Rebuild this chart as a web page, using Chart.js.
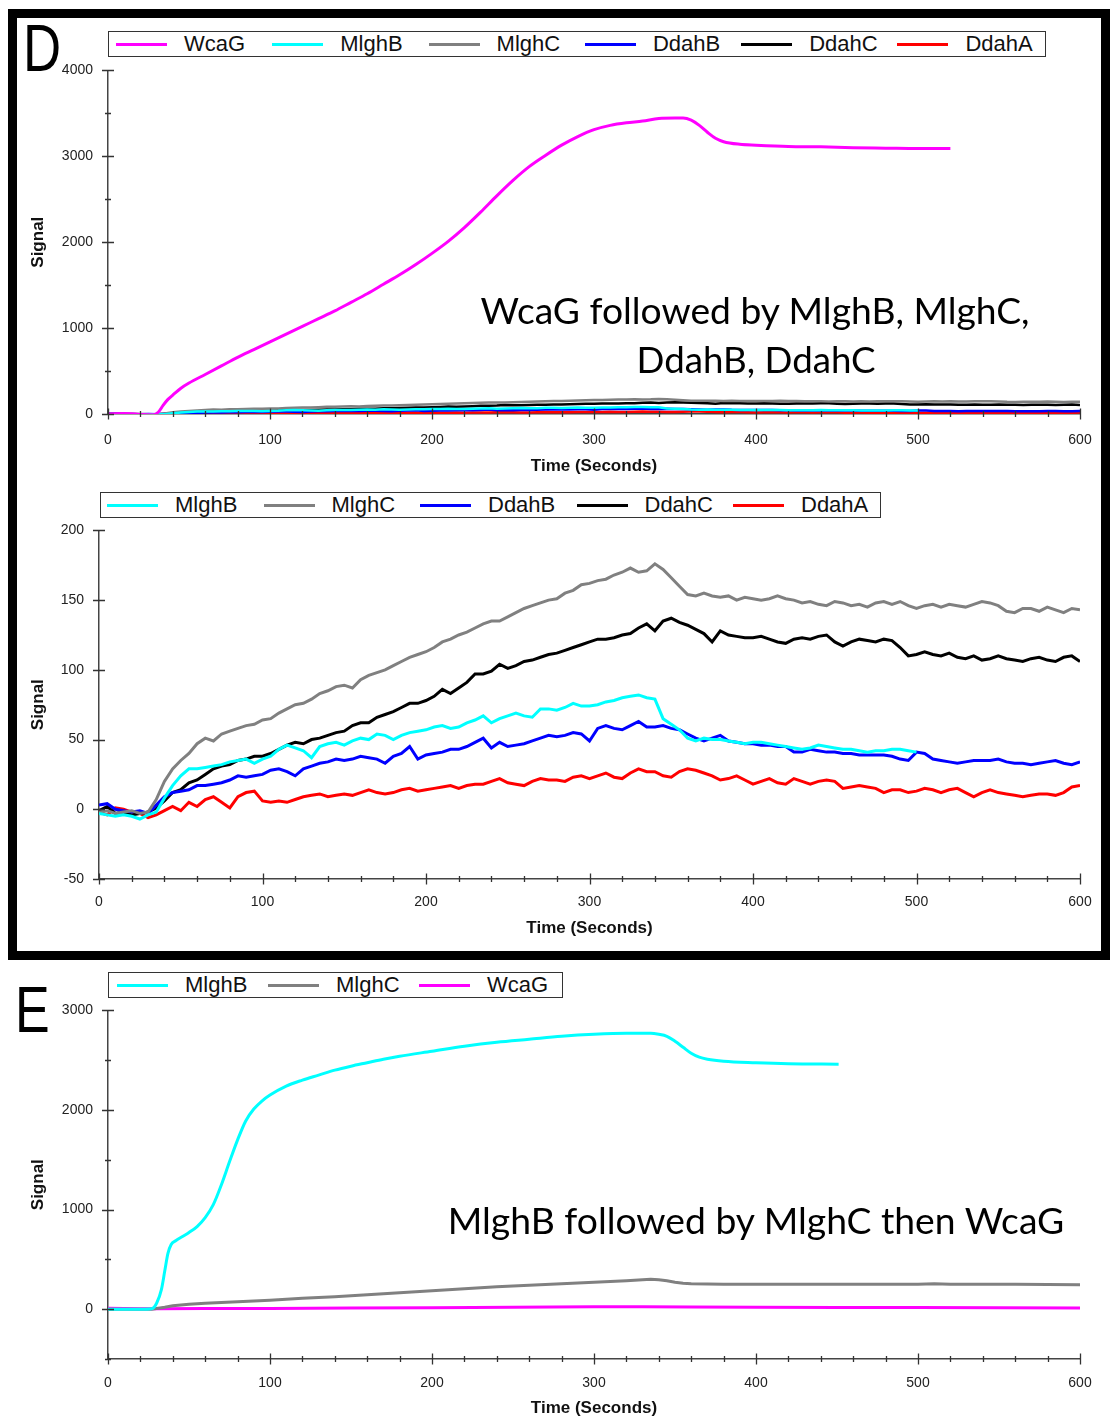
<!DOCTYPE html>
<html>
<head>
<meta charset="utf-8">
<title>Signal vs time</title>
<script src="https://cdn.jsdelivr.net/npm/chart.js@4.4.1/dist/chart.umd.min.js"></script>
<style>
  body { margin: 0; width: 1110px; height: 1416px; position: relative; overflow: hidden; background: #fff; font-family: "Liberation Sans", Arial, sans-serif; }
  .frame { position: absolute; left: 8px; top: 9px; width: 1102px; height: 951px; box-sizing: border-box; border: 9px solid #000; }
  canvas { position: absolute; left: 0; }
  .legend { position: absolute; box-sizing: border-box; height: 26px; border: 1.5px solid #333; background: #fff; display: flex; align-items: center; font-size: 22px; color: #111; white-space: nowrap; }
  .legend .item { flex: none; display: flex; align-items: center; }
  .legend .swatch { width: 51px; height: 3px; margin-right: 17px; }
  .letter { position: absolute; line-height: 1.117; transform: scaleX(0.8); transform-origin: 0 0; color: #000; }
  .note { position: absolute; font-family: Lato, "Open Sans", sans-serif; line-height: 1.2; text-align: center; white-space: nowrap; color: #000; }
</style>
</head>
<body>
<div class="frame"></div>
<div class="letter" style="left:23px; top:12px; font-size:66px;">D</div>
<div class="letter" style="left:15px; top:974px; font-size:65px;">E</div>

<canvas id="chartTop" width="1110" height="431" style="top:47px"></canvas>
<canvas id="chartMid" width="1110" height="432" style="top:507px"></canvas>
<canvas id="chartE" width="1110" height="432" style="top:987px"></canvas>

<div class="legend" id="legendTop" style="left:108px; top:31px; width:938px; padding-left:7px;"></div>
<div class="legend" id="legendMid" style="left:100px; top:492px; width:781px; padding-left:6px;"></div>
<div class="legend" id="legendE" style="left:108px; top:972px; width:455px; padding-left:8px;"></div>

<div class="note" data-cx="755" data-w="550" data-base="325">WcaG followed by MlghB, MlghC,</div>
<div class="note" data-cx="756" data-w="239" data-base="373">DdahB, DdahC</div>
<div class="note" data-cx="756" data-w="618" data-base="1235">MlghB followed by MlghC then WcaG</div>

<script>
// time base (seconds) for the noisy traces in panel D
const timeD = [
  0, 5, 10, 15, 20, 25, 30, 35, 40, 45, 50, 55, 60, 65, 70, 75, 80, 85, 90, 95,
  100, 105, 110, 115, 120, 125, 130, 135, 140, 145, 150, 155, 160, 165, 170, 175, 180, 185, 190, 195,
  200, 205, 210, 215, 220, 225, 230, 235, 240, 245, 250, 255, 260, 265, 270, 275, 280, 285, 290, 295,
  300, 305, 310, 315, 320, 325, 330, 335, 340, 345, 350, 355, 360, 365, 370, 375, 380, 385, 390, 395,
  400, 405, 410, 415, 420, 425, 430, 435, 440, 445, 450, 455, 460, 465, 470, 475, 480, 485, 490, 495,
  500, 505, 510, 515, 520, 525, 530, 535, 540, 545, 550, 555, 560, 565, 570, 575, 580, 585, 590, 595,
  600
];

const mlghB = [
  -3, -4, -5, -4, -5, -7, -4, -2, 8, 17, 24, 29, 29, 30, 31, 32, 34, 35, 36, 33,
  36, 38, 43, 46, 44, 42, 37, 45, 47, 48, 46, 49, 51, 50, 54, 53, 50, 53, 55, 56,
  57, 59, 60, 58, 59, 62, 64, 67, 62, 65, 67, 69, 67, 66, 72, 72, 71, 73, 76, 74,
  74, 75, 77, 78, 80, 81, 82, 80, 79, 65, 61, 57, 51, 49, 51, 50, 50, 49, 48, 47,
  48, 48, 47, 46, 45, 44, 43, 44, 46, 45, 44, 43, 43, 42, 41, 42, 42, 43, 43, 42,
  41
];

const mlghC = [
  -2, -1, -3, -2, -1, -3, -2, 7, 20, 29, 35, 40, 47, 51, 49, 54, 56, 58, 60, 61,
  64, 65, 69, 72, 75, 76, 79, 83, 85, 88, 89, 87, 93, 96, 98, 100, 103, 106, 109, 111,
  113, 116, 120, 122, 125, 127, 130, 133, 135, 135, 138, 141, 144, 146, 148, 150, 151, 155, 157, 161,
  162, 164, 165, 168, 170, 173, 170, 171, 176, 172, 166, 160, 154, 153, 155, 153, 152, 153, 150, 152,
  151, 150, 151, 153, 151, 150, 148, 149, 147, 146, 149, 148, 146, 147, 145, 148, 149, 147, 149, 146,
  144, 146, 147, 145, 147, 146, 145, 147, 149, 148, 146, 142, 141, 144, 144, 142, 145, 143, 141, 144,
  143
];

const ddahB = [
  3, 4, 0, -1, -2, -1, -3, 3, 9, 12, 13, 14, 17, 17, 18, 19, 21, 24, 23, 24,
  25, 28, 29, 27, 24, 29, 31, 33, 34, 36, 35, 36, 38, 37, 36, 33, 38, 40, 45, 36,
  39, 40, 41, 43, 43, 45, 48, 51, 44, 48, 45, 46, 47, 49, 51, 53, 52, 53, 55, 54,
  49, 58, 60, 58, 57, 60, 63, 59, 59, 60, 58, 57, 54, 51, 49, 51, 53, 49, 48, 47,
  47, 46, 46, 45, 45, 41, 41, 43, 42, 41, 41, 40, 40, 39, 39, 39, 39, 38, 36, 35,
  41, 40, 36, 35, 34, 33, 34, 35, 35, 35, 36, 34, 33, 33, 32, 33, 34, 35, 33, 32,
  34
];

const ddahC = [
  -1, 2, -3, -2, -4, -3, -2, 1, 6, 12, 14, 19, 21, 25, 29, 31, 32, 35, 36, 38,
  38, 40, 43, 46, 48, 47, 50, 51, 53, 55, 56, 60, 62, 62, 66, 68, 70, 73, 76, 76,
  78, 81, 86, 83, 87, 91, 97, 97, 99, 104, 101, 103, 106, 107, 109, 111, 112, 114, 116, 118,
  120, 122, 122, 123, 125, 126, 130, 133, 128, 135, 137, 134, 132, 129, 126, 120, 128, 125, 124, 123,
  123, 124, 122, 120, 119, 122, 123, 122, 124, 125, 120, 117, 120, 122, 121, 120, 122, 121, 116, 110,
  111, 113, 111, 110, 112, 109, 108, 110, 107, 108, 110, 108, 107, 106, 108, 109, 107, 106, 109, 110,
  106
];

const ddahA = [
  -2, -4, 1, 0, -2, -3, -6, -4, -1, 2, -1, 5, 2, 7, 9, 5, 1, 9, 12, 13,
  6, 5, 6, 5, 7, 9, 10, 11, 9, 10, 11, 10, 12, 14, 12, 11, 12, 14, 15, 13,
  14, 15, 16, 17, 15, 17, 18, 18, 20, 22, 19, 18, 17, 20, 22, 21, 21, 20, 23, 24,
  22, 24, 26, 23, 22, 26, 29, 27, 27, 24, 23, 27, 29, 28, 26, 24, 21, 22, 24, 21,
  18, 20, 22, 19, 18, 22, 20, 18, 20, 21, 20, 15, 16, 17, 16, 15, 12, 14, 14, 12,
  13, 15, 14, 12, 14, 15, 12, 9, 12, 14, 12, 11, 10, 9, 10, 11, 11, 10, 12, 16,
  17
];

// WcaG trace, top panel of D
const wcagTimeD = [0, 10, 20, 28, 31, 34, 37, 40, 45, 50, 60, 70, 80, 90, 100, 110, 120, 130, 140, 150,
  160, 170, 180, 190, 200, 210, 220, 230, 240, 250, 260, 270, 280, 290, 300, 310, 320, 330, 340, 350,
  355, 360, 365, 370, 375, 380, 390, 400, 420, 440, 460, 480, 500, 520];
const wcagD = [0, 5, -5, -10, 20, 100, 170, 220, 300, 360, 460, 560, 660, 750, 840, 930, 1020, 1110, 1200, 1300,
  1400, 1510, 1620, 1740, 1870, 2010, 2170, 2350, 2540, 2720, 2880, 3010, 3130, 3230, 3310, 3360, 3390, 3410, 3440, 3445,
  3445, 3420, 3360, 3280, 3210, 3170, 3140, 3130, 3115, 3110, 3100, 3095, 3090, 3090];

// panel E
const mlghBTimeE = [0, 10, 20, 27, 30, 33, 35, 37, 39, 42, 46, 50, 55, 60, 65, 70, 75, 80, 85, 90,
  95, 100, 110, 120, 130, 140, 150, 160, 170, 180, 200, 220, 240, 260, 280, 300, 320, 335, 340, 345,
  350, 355, 360, 365, 370, 380, 400, 420, 451];
const mlghBE = [0, 0, 0, 5, 60, 200, 380, 560, 650, 690, 730, 770, 830, 920, 1050, 1250, 1480, 1700, 1890, 2010,
  2090, 2150, 2240, 2300, 2350, 2400, 2440, 2475, 2510, 2540, 2590, 2640, 2680, 2710, 2740, 2760, 2770, 2770, 2760, 2740,
  2690, 2630, 2570, 2530, 2510, 2490, 2475, 2465, 2460];

const mlghCTimeE = [0, 10, 20, 27, 35, 40, 50, 60, 80, 100, 120, 140, 160, 180, 200, 220, 240, 260, 280, 300,
  320, 330, 335, 340, 345, 350, 355, 360, 380, 400, 450, 500, 510, 520, 560, 600];
const mlghCE = [0, 0, 0, 0, 20, 35, 50, 60, 75, 90, 110, 125, 145, 165, 185, 205, 225, 240, 255, 270,
  285, 295, 300, 295, 285, 270, 260, 255, 250, 250, 250, 250, 255, 250, 250, 245];

const wcagTimeE = [0, 20, 30, 60, 100, 150, 200, 250, 300, 330, 360, 400, 450, 500, 550, 600];
const wcagE = [10, 5, 5, 8, 8, 12, 15, 20, 25, 25, 22, 20, 18, 18, 15, 12];

// axis ticks
const timeTicks = [0, 100, 200, 300, 400, 500, 600];
const signalTicksTop = [0, 1000, 2000, 3000, 4000];
const signalTicksMid = [-50, 0, 50, 100, 150, 200];
const signalTicksE = [0, 1000, 2000, 3000];
const signalMinE = -500;

const colors = {
  WcaG: '#ff00ff',
  MlghB: '#00ffff',
  MlghC: '#808080',
  DdahB: '#0000ff',
  DdahC: '#000000',
  DdahA: '#ff0000'
};

Chart.defaults.font.family = '"Liberation Sans", Arial, sans-serif';

// ticks that cross the axis lines, long at labelled values, short in between
const crossTicks = {
  id: 'crossTicks',
  afterDraw(chart, args, o) {
    const { ctx, chartArea: a, scales: { x, y } } = chart;
    ctx.save();
    ctx.strokeStyle = '#333';
    ctx.lineWidth = 1.3;
    ctx.beginPath();
    for (let v = x.min; v <= x.max; v += o.xMinor) {
      const px = Math.round(x.getPixelForValue(v)) + 0.5;
      const len = v % o.xMajor === 0 ? 5.5 : 3;
      ctx.moveTo(px, a.bottom - len);
      ctx.lineTo(px, a.bottom + len);
    }
    for (let v = y.min; v <= y.max; v += o.yMinor) {
      const py = Math.round(y.getPixelForValue(v)) + 0.5;
      const len = v % o.yMajor === 0 ? 6 : 3;
      ctx.moveTo(a.left - len, py);
      ctx.lineTo(a.left + len, py);
    }
    ctx.stroke();
    ctx.restore();
  }
};

function series(label, xs, ys, extra) {
  return Object.assign({
    label: label,
    data: ys.map((v, i) => ({ x: xs[i], y: v })),
    borderColor: colors[label],
    backgroundColor: colors[label],
    borderWidth: 3,
    pointRadius: 0,
    tension: 0,
    fill: false
  }, extra || {});
}

function makeChart(id, datasets, c) {
  const tickFont = { size: 14 };
  const titleFont = { size: 17, weight: 'bold' };
  return new Chart(document.getElementById(id), {
    type: 'line',
    data: { datasets: datasets },
    options: {
      responsive: false,
      animation: false,
      events: [],
      layout: { padding: { top: c.padTop, right: 30, left: 0, bottom: 0 } },
      plugins: {
        legend: { display: false },
        tooltip: { enabled: false },
        crossTicks: c.ticks
      },
      scales: {
        x: {
          type: 'linear',
          min: timeTicks[0],
          max: timeTicks[timeTicks.length - 1],
          grid: { display: false, drawTicks: false },
          border: { color: '#444', width: 1.5 },
          ticks: { stepSize: timeTicks[1] - timeTicks[0], padding: c.xPad, color: '#222', font: tickFont, maxRotation: 0, autoSkip: false },
          title: { display: true, text: 'Time (Seconds)', color: '#111', font: titleFont, padding: { top: 0, bottom: c.titlePad } },
          afterFit: s => { s.height = c.xHeight; }
        },
        y: {
          min: c.yMin,
          max: c.yMax,
          grid: { display: false, drawTicks: false },
          border: { color: '#444', width: 1.5 },
          ticks: {
            stepSize: c.yStep,
            padding: 15,
            color: '#222',
            font: tickFont,
            autoSkip: false,
            callback: v => (c.yLabels.includes(v) ? String(v) : '')
          },
          title: { display: true, text: 'Signal', color: '#111', font: titleFont, padding: { top: 28, bottom: 0 } },
          afterFit: s => { s.width = c.yWidth; }
        }
      }
    },
    plugins: [crossTicks]
  });
}

function buildLegend(id, names, pitch) {
  const box = document.getElementById(id);
  names.forEach((n, i) => {
    const item = document.createElement('div');
    item.className = 'item';
    if (i < names.length - 1) item.style.width = pitch + 'px';
    const sw = document.createElement('span');
    sw.className = 'swatch';
    sw.style.background = colors[n];
    const tx = document.createElement('span');
    tx.textContent = n;
    item.appendChild(sw);
    item.appendChild(tx);
    box.appendChild(item);
  });
}

// D, top: full scale
const smallSet = [
  ['MlghB', mlghB], ['MlghC', mlghC], ['DdahB', ddahB], ['DdahC', ddahC], ['DdahA', ddahA]
];
makeChart('chartTop', [series('WcaG', wcagTimeD, wcagD, { cubicInterpolationMode: 'monotone' })]
  .concat(smallSet.map(([n, v]) => series(n, timeD, v, { borderWidth: 2.5 }))), {
  padTop: 9, xPad: 18, xHeight: 64, titlePad: 1, yWidth: 108,
  yMin: signalTicksTop[0], yMax: signalTicksTop[signalTicksTop.length - 1],
  yStep: 500, yLabels: signalTicksTop,
  ticks: { xMajor: 100, xMinor: 20, yMajor: 1000, yMinor: 500 }
});
buildLegend('legendTop', ['WcaG', 'MlghB', 'MlghC', 'DdahB', 'DdahC', 'DdahA'], 156.3);

// D, bottom: zoom on the small traces
makeChart('chartMid', smallSet.map(([n, v]) => series(n, timeD, v)), {
  padTop: 9, xPad: 15, xHeight: 60, titlePad: 0, yWidth: 99,
  yMin: signalTicksMid[0], yMax: signalTicksMid[signalTicksMid.length - 1],
  yStep: 50, yLabels: signalTicksMid,
  ticks: { xMajor: 100, xMinor: 20, yMajor: 50, yMinor: 50 }
});
buildLegend('legendMid', ['MlghB', 'MlghC', 'DdahB', 'DdahC', 'DdahA'], 156.5);

// E
makeChart('chartE', [
  series('MlghB', mlghBTimeE, mlghBE, { cubicInterpolationMode: 'monotone' }),
  series('MlghC', mlghCTimeE, mlghCE),
  series('WcaG', wcagTimeE, wcagE)
], {
  padTop: 9, xPad: 16, xHeight: 60, titlePad: 0.5, yWidth: 108,
  yMin: signalMinE, yMax: signalTicksE[signalTicksE.length - 1],
  yStep: 500, yLabels: signalTicksE,
  ticks: { xMajor: 100, xMinor: 20, yMajor: 1000, yMinor: 500 }
});
buildLegend('legendE', ['MlghB', 'MlghC', 'WcaG'], 151);

// size the free text so each line spans the same width as in the figure
const measure = document.createElement('canvas').getContext('2d');
document.querySelectorAll('.note').forEach(el => {
  const fam = getComputedStyle(el).fontFamily;
  measure.font = '100px ' + fam;
  const w = measure.measureText(el.textContent).width;
  const size = 100 * Number(el.dataset.w) / w;
  el.style.fontSize = size + 'px';
  el.style.width = el.dataset.w + 'px';
  el.style.left = (Number(el.dataset.cx) - Number(el.dataset.w) / 2) + 'px';
  el.style.top = (Number(el.dataset.base) - 0.987 * size) + 'px';
});
</script>
</body>
</html>
